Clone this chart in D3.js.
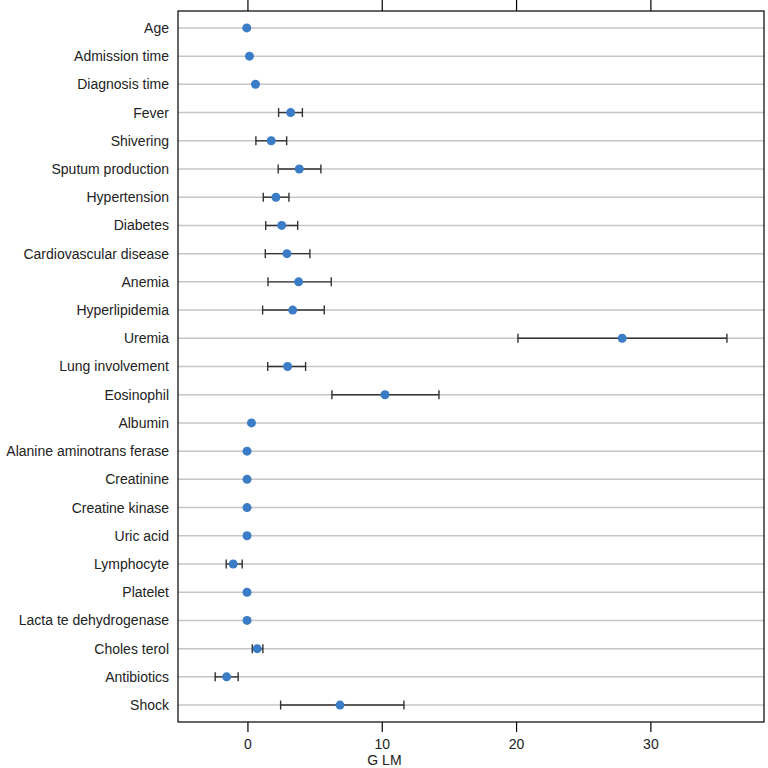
<!DOCTYPE html>
<html>
<head>
<meta charset="utf-8">
<script src="https://cdn.jsdelivr.net/npm/d3@7"></script>
<style>
  body { margin: 0; background: #fff; }
  text { font-family: "Liberation Sans", Arial, sans-serif; }
</style>
</head>
<body>
<script>
var labels = ["Age", "Admission time", "Diagnosis time", "Fever", "Shivering",
  "Sputum production", "Hypertension", "Diabetes", "Cardiovascular disease",
  "Anemia", "Hyperlipidemia", "Uremia", "Lung involvement", "Eosinophil",
  "Albumin", "Alanine aminotrans ferase", "Creatinine", "Creatine kinase",
  "Uric acid", "Lymphocyte", "Platelet", "Lacta te dehydrogenase",
  "Choles terol", "Antibiotics", "Shock"];
var estimate = [-0.05, 0.15, 0.6, 3.22, 1.77, 3.86, 2.12, 2.55, 2.94, 3.81, 3.37,
  27.9, 2.99, 10.24, 0.3, -0.03, -0.03, -0.03, -0.03, -1.06, -0.03, -0.03,
  0.73, -1.55, 6.89];
var lower = [null, null, null, 2.32, 0.63, 2.29, 1.18, 1.36, 1.33, 1.53, 1.13,
  20.14, 1.51, 6.29, null, null, null, null, null, -1.58, null, null,
  0.36, -2.40, 2.47];
var upper = [null, null, null, 4.09, 2.92, 5.47, 3.09, 3.74, 4.65, 6.24, 5.72,
  35.7, 4.33, 14.26, null, null, null, null, null, -0.39, null, null,
  1.15, -0.69, 11.65];
var xTicks = [0, 10, 20, 30];

var w = 768, h = 768;
var box = { left: 178, right: 764, top: 11, bottom: 722 };
var font = "'Liberation Sans', Arial, sans-serif";

var svg = d3.select("body").append("svg")
  .attr("width", w)
  .attr("height", h);

var x = d3.scaleLinear().domain([-5.17, 38.46]).range([box.left, box.right]);
var y = d3.scalePoint().domain(labels).range([box.top, box.bottom]).padding(0.6);

var rows = labels.map(function (d, i) {
  return { name: d, est: estimate[i], lo: lower[i], hi: upper[i] };
});

// grid lines per row
svg.selectAll("line.grid")
  .data(rows)
  .enter().append("line")
  .attr("class", "grid")
  .attr("x1", box.left).attr("x2", box.right)
  .attr("y1", function (d) { return y(d.name); })
  .attr("y2", function (d) { return y(d.name); })
  .attr("stroke", "#c6c6c6")
  .attr("stroke-width", 1.5);

// error bars
var ci = rows.filter(function (d) { return d.lo !== null; });
var bars = svg.selectAll("g.ci").data(ci).enter().append("g").attr("class", "ci")
  .attr("stroke", "#333").attr("stroke-width", 1.4);
bars.append("line")
  .attr("x1", function (d) { return x(d.lo); })
  .attr("x2", function (d) { return x(d.hi); })
  .attr("y1", function (d) { return y(d.name); })
  .attr("y2", function (d) { return y(d.name); });
bars.append("line")
  .attr("x1", function (d) { return x(d.lo); })
  .attr("x2", function (d) { return x(d.lo); })
  .attr("y1", function (d) { return y(d.name) - 4.5; })
  .attr("y2", function (d) { return y(d.name) + 4.5; });
bars.append("line")
  .attr("x1", function (d) { return x(d.hi); })
  .attr("x2", function (d) { return x(d.hi); })
  .attr("y1", function (d) { return y(d.name) - 4.5; })
  .attr("y2", function (d) { return y(d.name) + 4.5; });

// points
svg.selectAll("circle")
  .data(rows)
  .enter().append("circle")
  .attr("cx", function (d) { return x(d.est); })
  .attr("cy", function (d) { return y(d.name); })
  .attr("r", 4.5)
  .attr("fill", "#3a7cc6");

// frame
svg.append("rect")
  .attr("x", box.left).attr("y", box.top)
  .attr("width", box.right - box.left).attr("height", box.bottom - box.top)
  .attr("fill", "none").attr("stroke", "#000").attr("stroke-width", 1.2);

// bottom axis
var xAxis = d3.axisBottom(x).tickValues(xTicks).tickSize(10).tickPadding(7);
var gx = svg.append("g")
  .attr("transform", "translate(0," + box.bottom + ")")
  .call(xAxis);
gx.select(".domain").remove();
gx.selectAll("line").attr("stroke-width", 1.2);
gx.selectAll("text").attr("font-size", 14).attr("fill", "#222")
  .style("font-family", font);

// top ticks, no labels
var gt = svg.append("g")
  .attr("transform", "translate(0," + box.top + ")")
  .call(d3.axisTop(x).tickValues(xTicks).tickSize(11).tickFormat(""));
gt.select(".domain").remove();
gt.selectAll("line").attr("stroke-width", 1.2);

// left labels
var gy = svg.append("g")
  .attr("transform", "translate(" + box.left + ",0)")
  .call(d3.axisLeft(y).tickSize(0).tickPadding(9));
gy.select(".domain").remove();
gy.selectAll("text").attr("font-size", 14).attr("fill", "#222")
  .style("font-family", font);

svg.append("text")
  .attr("x", x(10.2))
  .attr("y", 765)
  .attr("text-anchor", "middle")
  .attr("font-size", 14)
  .attr("fill", "#222")
  .text("G LM");
</script>
</body>
</html>
